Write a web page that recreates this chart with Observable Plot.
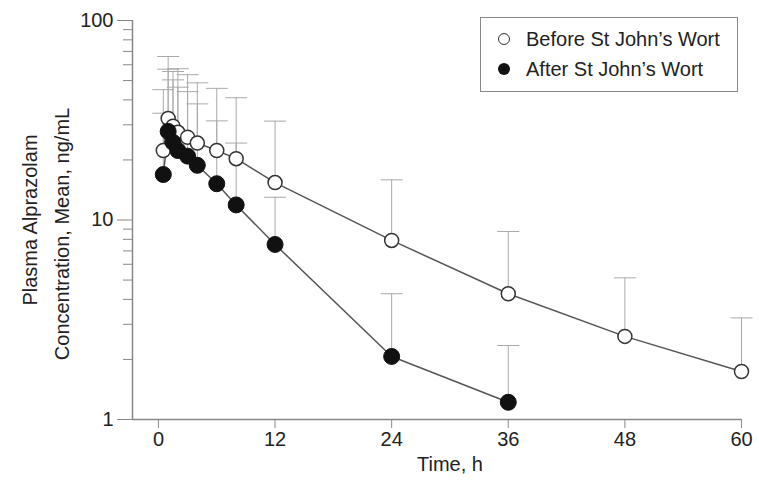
<!DOCTYPE html>
<html>
<head>
<meta charset="utf-8">
<script src="https://cdn.jsdelivr.net/npm/d3@7"></script>
<script src="https://cdn.jsdelivr.net/npm/@observablehq/plot@0.6"></script>
<style>
  html, body { margin: 0; padding: 0; background: #fff; }
  #wrap { position: relative; width: 759px; height: 487px; font-family: "Liberation Sans", Arial, sans-serif; color: #222; }
  #legend { position: absolute; left: 480px; top: 17px; width: 258px; height: 75px; border: 1.5px solid #888; box-sizing: border-box; background: #fff; }
  .item { position: absolute; left: 0; height: 24px; line-height: 24px; font-size: 20px; white-space: nowrap; color: #222; }
  .item .sym { position: absolute; left: 17px; top: 6px; width: 12px; height: 12px; border-radius: 50%; box-sizing: border-box; }
  .item .lab { position: absolute; left: 45px; top: 0; }
</style>
</head>
<body>
<div id="wrap"></div>
<script>
// ---- data ----
const legendLabels = ["Before St John\u2019s Wort", "After St John\u2019s Wort"];
const xTicks = [0, 12, 24, 36, 48, 60];
const yMajorTicks = [1, 10, 100];
const yMinorTicks = [2, 3, 4, 5, 6, 7, 8, 9, 20, 30, 40, 50, 60, 70, 80, 90];
const xLabel = "Time, h";
const yLabelLines = ["Plasma Alprazolam", "Concentration, Mean, ng/mL"];

const beforeTime  = [0.5, 1, 1.5, 2, 3, 4, 6, 8, 12, 24, 36, 48, 60];
const beforeMean  = [22.3, 32.3, 29.5, 27.5, 26.0, 24.3, 22.3, 20.3, 15.4, 7.9, 4.27, 2.61, 1.74];
const beforeUpper = [45, 66, 55.5, 57.3, 53.5, 48.7, 45.7, 41, 31.3, 15.9, 8.76, 5.13, 3.23];

const afterTime  = [0.5, 1, 1.5, 2, 3, 4, 6, 8, 12, 24, 36];
const afterMean  = [16.9, 27.8, 24.5, 22.3, 20.9, 18.8, 15.2, 11.9, 7.54, 2.07, 1.22];
const afterUpper = [34.3, 57, 50.4, 46.3, 44, 38.2, 31.4, 24.3, 13, 4.27, 2.35];

const before = beforeTime.map((t, i) => ({t, mean: beforeMean[i], upper: beforeUpper[i]}));
const after = afterTime.map((t, i) => ({t, mean: afterMean[i], upper: afterUpper[i]}));

const xMin = -2.67;

// cap symbol: horizontal line
const capSymbol = {
  draw(context, size) {
    const w = Math.sqrt(size / Math.PI);
    context.moveTo(-w, 0);
    context.lineTo(w, 0);
  }
};

const font = "Liberation Sans, Arial, sans-serif";
const fs = 20;

const chart = Plot.plot({
  width: 759,
  height: 487,
  marginLeft: 132,
  marginRight: 18,
  marginTop: 20,
  marginBottom: 68,
  style: {fontFamily: font, fontSize: "20px", color: "#222", background: "#fff"},
  x: {domain: [xMin, 60], axis: null},
  y: {type: "log", domain: [1, 100], axis: null},
  marks: [
    // axes lines
    Plot.ruleX([xMin], {stroke: "#888", strokeWidth: 1.5}),
    Plot.ruleY([1], {stroke: "#888", strokeWidth: 1.5}),
    Plot.axisX({ticks: xTicks, tickSize: 9, tickPadding: 3, stroke: "#888", fill: "#222", fontSize: fs, label: null, tickFormat: d => String(d)}),
    Plot.axisY({ticks: yMajorTicks, tickSize: 15, tickPadding: 4, stroke: "#888", fill: "#222", fontSize: fs, label: null, tickFormat: d => String(d)}),
    Plot.axisY({ticks: yMinorTicks, tickSize: 9, stroke: "#888", label: null, tickFormat: () => ""}),
    // axis labels
    Plot.text([xLabel], {x: 30, frameAnchor: "bottom", dy: 51, fontSize: fs, fill: "#222", textAnchor: "middle"}),
    Plot.text([yLabelLines[0]], {frameAnchor: "left", textAnchor: "middle", dx: -102, dy: 0, rotate: -90, fontSize: fs, fill: "#222"}),
    Plot.text([yLabelLines[1]], {frameAnchor: "left", textAnchor: "middle", dx: -70, dy: 14, rotate: -90, fontSize: fs, fill: "#222"}),
    // error bars
    Plot.ruleX(before, {x: "t", y1: "mean", y2: "upper", stroke: "#aaa", strokeWidth: 1}),
    Plot.ruleX(after, {x: "t", y1: "mean", y2: "upper", stroke: "#aaa", strokeWidth: 1}),
    Plot.dot(before, {x: "t", y: "upper", symbol: capSymbol, r: 11, stroke: "#aaa", strokeWidth: 1, fill: "none"}),
    Plot.dot(after, {x: "t", y: "upper", symbol: capSymbol, r: 11, stroke: "#aaa", strokeWidth: 1, fill: "none"}),
    // lines
    Plot.line(before, {x: "t", y: "mean", stroke: "#555", strokeWidth: 1.5}),
    Plot.line(after, {x: "t", y: "mean", stroke: "#555", strokeWidth: 1.5}),
    // dots
    Plot.dot(before, {x: "t", y: "mean", r: 7, fill: "#fff", stroke: "#333", strokeWidth: 1.5}),
    Plot.dot(after, {x: "t", y: "mean", r: 8, fill: "#111", stroke: "#111", strokeWidth: 1})
  ]
});

const wrap = document.getElementById("wrap");
wrap.appendChild(chart);

const legend = document.createElement("div");
legend.id = "legend";
legend.innerHTML = `
  <div class="item" style="top:9px"><span class="sym" style="border:1.5px solid #333;background:#fff"></span><span class="lab">${legendLabels[0]}</span></div>
  <div class="item" style="top:39px"><span class="sym" style="background:#111"></span><span class="lab">${legendLabels[1]}</span></div>
`;
wrap.appendChild(legend);
</script>
</body>
</html>
